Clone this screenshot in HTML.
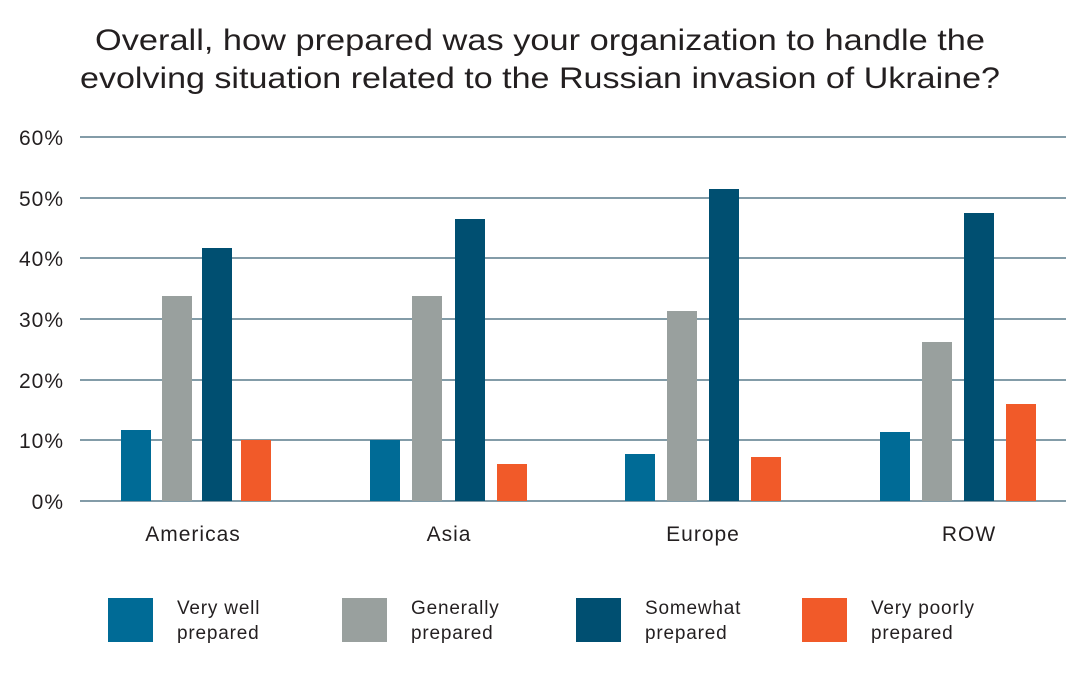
<!DOCTYPE html>
<html><head><style>body{margin:0;background:#fff}</style></head><body>
<svg width="1081" height="681" xmlns="http://www.w3.org/2000/svg" font-family="Liberation Sans, sans-serif" fill="#231f20">
<rect width="1081" height="681" fill="#fff"/>
<text x="95" y="50" font-size="30" textLength="890" lengthAdjust="spacingAndGlyphs">Overall, how prepared was your organization to handle the</text>
<text x="80" y="88" font-size="30" textLength="920" lengthAdjust="spacingAndGlyphs">evolving situation related to the Russian invasion of Ukraine?</text>
<g stroke="#5a7c8c" stroke-width="1.5">
<line x1="80" x2="1066" y1="137" y2="137"/><line x1="80" x2="1066" y1="198" y2="198"/>
<line x1="80" x2="1066" y1="258" y2="258"/><line x1="80" x2="1066" y1="319" y2="319"/>
<line x1="80" x2="1066" y1="380" y2="380"/><line x1="80" x2="1066" y1="440" y2="440"/>
<line x1="80" x2="1066" y1="501" y2="501"/></g>
<g font-size="21" text-anchor="end" letter-spacing="1">
<text x="64" y="145">60%</text><text x="64" y="206">50%</text><text x="64" y="266">40%</text>
<text x="64" y="327">30%</text><text x="64" y="388">20%</text><text x="64" y="448">10%</text><text x="64" y="509">0%</text></g>
<g fill="#006b96"><rect x="121" y="430" width="30" height="71"/><rect x="370" y="440" width="30" height="61"/><rect x="625" y="454" width="30" height="47"/><rect x="880" y="432" width="30" height="69"/></g>
<g fill="#99a09e"><rect x="162" y="296" width="30" height="205"/><rect x="412" y="296" width="30" height="205"/><rect x="667" y="311" width="30" height="190"/><rect x="922" y="342" width="30" height="159"/></g>
<g fill="#004f71"><rect x="202" y="248" width="30" height="253"/><rect x="455" y="219" width="30" height="282"/><rect x="709" y="189" width="30" height="312"/><rect x="964" y="213" width="30" height="288"/></g>
<g fill="#f15a29"><rect x="241" y="440" width="30" height="61"/><rect x="497" y="464" width="30" height="37"/><rect x="751" y="457" width="30" height="44"/><rect x="1006" y="404" width="30" height="97"/></g>
<g font-size="21" text-anchor="middle" letter-spacing="1">
<text x="193" y="541">Americas</text><text x="449" y="541">Asia</text><text x="703" y="541">Europe</text><text x="969" y="541">ROW</text></g>
<rect x="108" y="598" width="45" height="44" fill="#006b96"/>
<rect x="342" y="598" width="45" height="44" fill="#99a09e"/>
<rect x="576" y="598" width="45" height="44" fill="#004f71"/>
<rect x="802" y="598" width="45" height="44" fill="#f15a29"/>
<g font-size="19" letter-spacing="0.8">
<text x="177" y="614">Very well</text><text x="177" y="639">prepared</text>
<text x="411" y="614">Generally</text><text x="411" y="639">prepared</text>
<text x="645" y="614">Somewhat</text><text x="645" y="639">prepared</text>
<text x="871" y="614">Very poorly</text><text x="871" y="639">prepared</text></g>
</svg>
</body></html>
